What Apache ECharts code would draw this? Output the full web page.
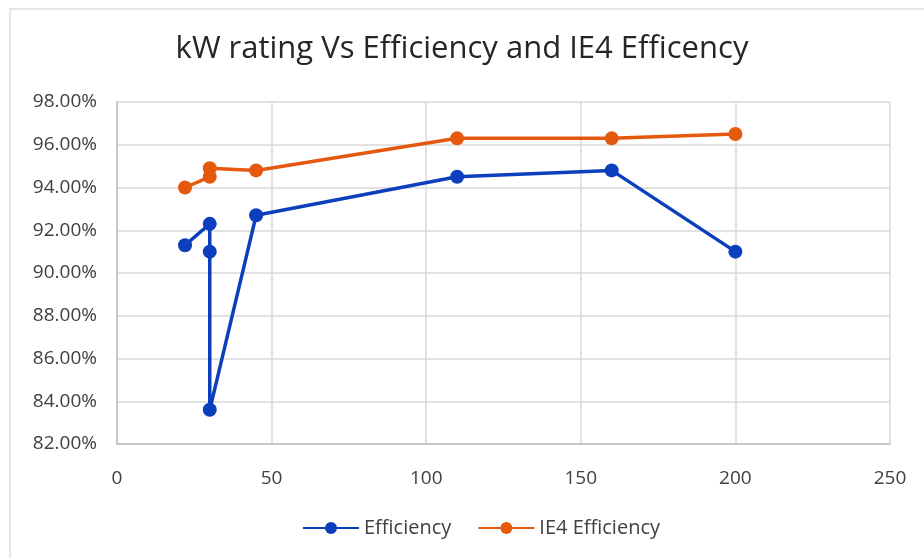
<!DOCTYPE html>
<html>
<head>
<meta charset="utf-8">
<script src="https://cdn.jsdelivr.net/npm/echarts@6/dist/echarts.min.js"></script>
<style>
html,body{margin:0;padding:0;background:#fff;}
#chart{width:924px;height:558px;}
</style>
</head>
<body>
<div id="chart"></div>
<script>
const kwRating = [22, 30, 30, 30, 45, 110, 160, 200];
const efficiency = [91.3, 92.3, 91.0, 83.6, 92.7, 94.5, 94.8, 91.0];
const ie4KwRating = [22, 30, 30, 45, 110, 160, 200];
const ie4Efficiency = [94.0, 94.5, 94.9, 94.8, 96.3, 96.3, 96.5];
const titleText = 'kW rating Vs Efficiency and IE4 Efficency';
const seriesNames = ['Efficiency', 'IE4 Efficiency'];

const effData = kwRating.map((x, i) => [x, efficiency[i]]);
const ie4Data = ie4KwRating.map((x, i) => [x, ie4Efficiency[i]]);

const chart = echarts.init(document.getElementById('chart'));
const font = '"Open Sans", "Noto Sans", sans-serif';
chart.setOption({
  animation: false,
  backgroundColor: '#fff',
  graphic: [{
    type: 'rect', shape: { x: 10, y: 9, width: 930, height: 560 },
    style: { fill: 'none', stroke: '#e0e0e0', lineWidth: 1.5 }, silent: true, z: -1
  }],
  title: {
    text: titleText,
    left: 'center',
    top: 29,
    textStyle: { fontFamily: font, fontSize: 31, fontWeight: 'normal', color: '#262626' }
  },
  legend: {
    bottom: 15,
    left: 297,
    itemWidth: 56,
    itemHeight: 15,
    itemGap: 26,
    textStyle: { fontFamily: font, fontSize: 20, color: '#404040' },
    data: seriesNames
  },
  grid: { left: 117, right: 34, top: 102, bottom: 114 },
  xAxis: {
    type: 'value',
    min: 0, max: 250, interval: 50,
    axisLine: { show: true, lineStyle: { color: '#bfbfbf', width: 1.5 } },
    axisTick: { show: false },
    splitLine: { show: true, lineStyle: { color: '#d9d9d9', width: 1.5 } },
    axisLabel: { margin: 25, fontFamily: font, fontSize: 19, color: '#404040' }
  },
  yAxis: {
    type: 'value',
    min: 82, max: 98, interval: 2,
    axisLine: { show: true, lineStyle: { color: '#bfbfbf', width: 1.5 } },
    axisTick: { show: false },
    splitLine: { show: true, lineStyle: { color: '#d9d9d9', width: 1.5 } },
    axisLabel: { margin: 20, fontFamily: font, fontSize: 19, color: '#404040',
      formatter: v => v.toFixed(2) + '%' }
  },
  series: [
    {
      name: seriesNames[0], type: 'line', data: effData,
      symbol: 'circle', symbolSize: 14,
      lineStyle: { color: '#0b3fbd', width: 3.5 },
      itemStyle: { color: '#0b3fbd' }
    },
    {
      name: seriesNames[1], type: 'line', data: ie4Data,
      symbol: 'circle', symbolSize: 14,
      lineStyle: { color: '#e5590e', width: 3.5 },
      itemStyle: { color: '#e5590e' }
    }
  ]
});
</script>
</body>
</html>
